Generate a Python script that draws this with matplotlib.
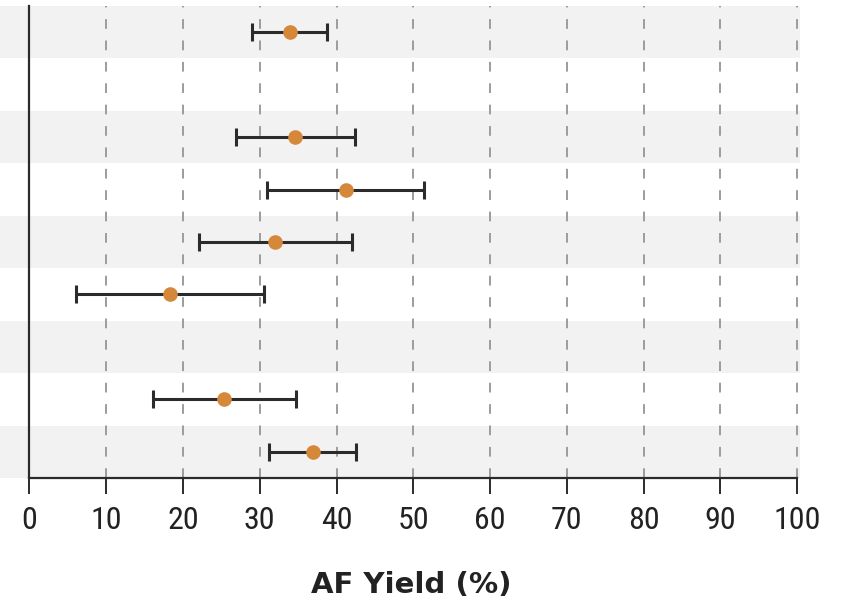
import matplotlib
matplotlib.use("Agg")
import matplotlib.pyplot as plt
from matplotlib import font_manager

rows = list(range(9))
row_has_data = [True, False, True, True, True, True, False, True, True]
point = [33.9, None, 34.6, 41.2, 32.0, 18.3, None, 25.4, 36.9]
lower = [29.0, None, 26.9, 31.0, 22.1, 6.1, None, 16.1, 31.2]
upper = [38.7, None, 42.4, 51.4, 42.0, 30.5, None, 34.7, 42.6]
xticks = [0, 10, 20, 30, 40, 50, 60, 70, 80, 90, 100]
xlabel = "AF Yield (%)"

names = {f.name for f in font_manager.fontManager.ttflist}
tick_fam = "Roboto"
for cand in ["Roboto Condensed", "Liberation Sans Narrow", "Open Sans Condensed", "Roboto"]:
    if cand in names:
        tick_fam = cand
        break
plt.rcParams["font.family"] = ["Roboto", "DejaVu Sans"]

W, H, DPI = 844, 608, 100
fig = plt.figure(figsize=(W / DPI, H / DPI), dpi=DPI)
ax = fig.add_axes([0, 1 - 478 / H, 800 / W, (478 - 6) / H])

ax.set_xlim(-29.3 / 7.68, 100 + (800 - 797.3) / 7.68)
ax.set_ylim(len(rows) - 0.5, -0.5)

for r in rows:
    if r % 2 == 0:
        ax.axhspan(r - 0.5, r + 0.5, color="#f2f2f2", lw=0, zorder=0)

for t in xticks[1:]:
    ax.axvline(t, color="#9c9c9c", lw=1.4, ls=(0, (5, 6)), zorder=1)

for r, has, p, lo, hi in zip(rows, row_has_data, point, lower, upper):
    if not has:
        continue
    ax.errorbar([p], [r], xerr=[[p - lo], [hi - p]], fmt="none",
                ecolor="#2b2b2b", elinewidth=2.2, capsize=6.8, capthick=2.2, zorder=3)
    ax.plot([p], [r], "o", color="#d6883a", ms=9.5, mec="#d6883a", zorder=4)

for s in ["top", "right"]:
    ax.spines[s].set_visible(False)
ax.spines["left"].set_position(("data", 0))
ax.spines["left"].set_linewidth(1.6)
ax.spines["left"].set_color("#2b2b2b")
ax.spines["bottom"].set_bounds(0, 100)
ax.spines["bottom"].set_linewidth(1.6)
ax.spines["bottom"].set_color("#2b2b2b")
ax.set_yticks([])
ax.set_xticks(xticks)
ax.set_xticklabels([str(t) for t in xticks], fontsize=23, color="#222222",
                   family=[tick_fam, "DejaVu Sans"])
ax.tick_params(axis="x", direction="out", length=11.5, width=1.4, color="#2b2b2b", pad=8.5)

fig.text(411.5 / W, 1 - 593 / H, xlabel, fontsize=21, fontweight="bold", color="#222222",
         ha="center", va="baseline", family=["DejaVu Sans"])

fig.savefig("out.png", dpi=DPI)
